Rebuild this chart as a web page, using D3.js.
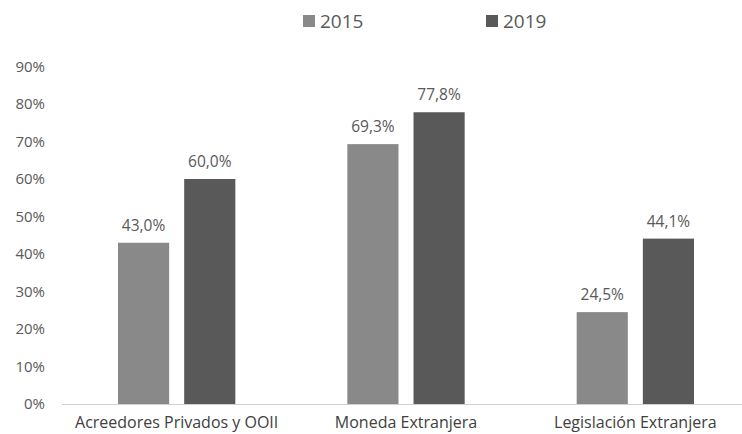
<!DOCTYPE html>
<html>
<head>
<meta charset="utf-8">
<script src="https://cdn.jsdelivr.net/npm/d3@7"></script>
<style>
  body { margin: 0; background: #fff; }
  svg { display: block; font-family: "Open Sans", "DejaVu Sans", sans-serif; }
</style>
</head>
<body>
<div id="chart"></div>
<script>
const categories = ["Acreedores Privados y OOII", "Moneda Extranjera", "Legislación Extranjera"];
const seriesNames = ["2015", "2019"];
const values2015 = [43.0, 69.3, 24.5];
const values2019 = [60.0, 77.8, 44.1];
const yTicks = [0, 10, 20, 30, 40, 50, 60, 70, 80, 90];

const width = 742, height = 434;
const colors = { "2015": "#898989", "2019": "#595959" };
const textColor = "#595959";

const data = categories.map((c, i) => ({
  category: c,
  values: [
    { key: "2015", value: values2015[i] },
    { key: "2019", value: values2019[i] }
  ]
}));

const svg = d3.select("#chart")
  .append("svg")
  .attr("width", width)
  .attr("height", height);

const x0 = d3.scaleBand()
  .domain(categories)
  .range([62, 750]);

const x1 = d3.scaleBand()
  .domain(seriesNames)
  .range([56, x0.bandwidth() - 56])
  .paddingInner(0.227);

const y = d3.scaleLinear()
  .domain([0, 90])
  .range([404, 66.5]);

// y axis labels
svg.append("g")
  .selectAll("text")
  .data(yTicks)
  .join("text")
  .attr("x", 45)
  .attr("y", d => y(d))
  .attr("dy", "0.35em")
  .attr("text-anchor", "end")
  .attr("fill", textColor)
  .style("font-size", "15px")
  .text(d => d + "%");

// baseline
svg.append("line")
  .attr("x1", 62)
  .attr("x2", 742)
  .attr("y1", y(0) + 0.5)
  .attr("y2", y(0) + 0.5)
  .attr("stroke", "#d0d0d0")
  .attr("stroke-width", 1);

const group = svg.append("g")
  .selectAll("g")
  .data(data)
  .join("g")
  .attr("transform", d => `translate(${x0(d.category)},0)`);

group.selectAll("rect")
  .data(d => d.values)
  .join("rect")
  .attr("x", d => x1(d.key))
  .attr("y", d => y(d.value))
  .attr("width", x1.bandwidth())
  .attr("height", d => y(0) - y(d.value))
  .attr("fill", d => colors[d.key]);

// data labels
group.selectAll("text.lbl")
  .data(d => d.values)
  .join("text")
  .attr("class", "lbl")
  .attr("x", d => x1(d.key) + x1.bandwidth() / 2)
  .attr("y", d => y(d.value) - 12)
  .attr("text-anchor", "middle")
  .attr("fill", textColor)
  .style("font-size", "15.5px")
  .text(d => d.value.toFixed(1).replace(".", ",") + "%");

// category labels
svg.append("g")
  .selectAll("text")
  .data(categories)
  .join("text")
  .attr("x", d => x0(d) + x0.bandwidth() / 2)
  .attr("y", 428)
  .attr("text-anchor", "middle")
  .attr("fill", "#404040")
  .style("font-size", "16px")
  .text(d => d);

// legend
const legendX = [303, 486];
const legend = svg.append("g")
  .selectAll("g")
  .data(seriesNames)
  .join("g")
  .attr("transform", (d, i) => `translate(${legendX[i]},15)`);

legend.append("rect")
  .attr("width", 12)
  .attr("height", 12)
  .attr("fill", d => colors[d]);

legend.append("text")
  .attr("x", 17)
  .attr("y", 6)
  .attr("dy", "0.36em")
  .attr("fill", textColor)
  .style("font-size", "19px")
  .text(d => d);
</script>
</body>
</html>
